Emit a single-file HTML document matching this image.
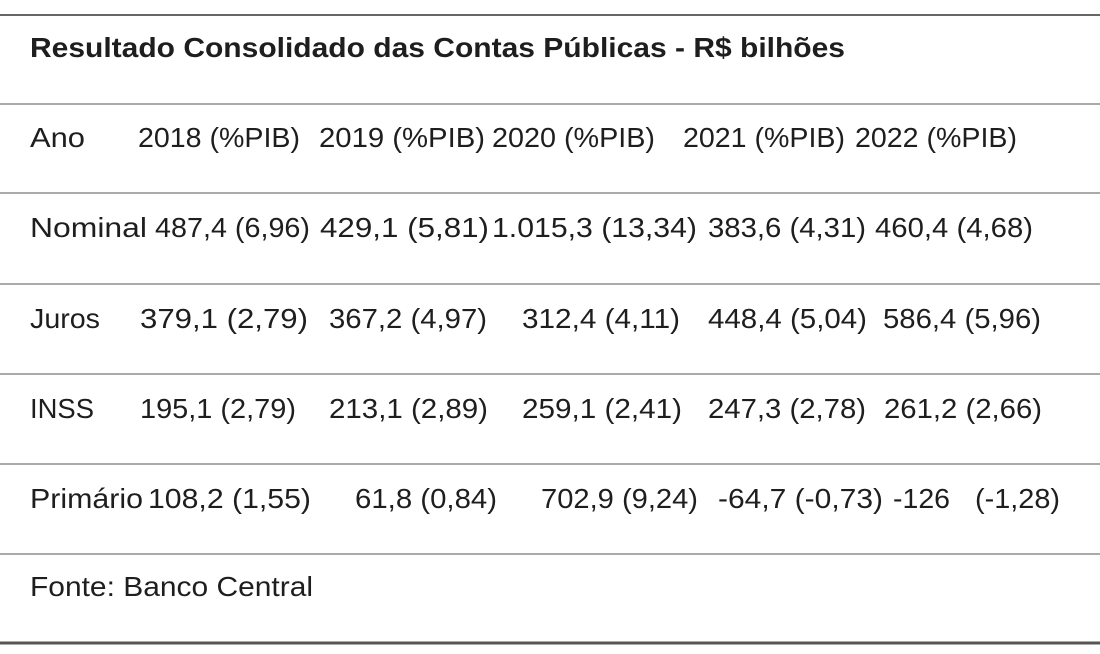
<!DOCTYPE html>
<html><head><meta charset="utf-8"><style>
html,body{margin:0;padding:0;background:#fff;}
svg{display:block;}
text{font-family:"Liberation Sans",sans-serif;font-size:28px;fill:#1e1e1e;}
</style></head><body>
<svg width="1100" height="654">
<rect width="1100" height="654" fill="#fff"/>
<line x1="0" x2="1100" y1="15" y2="15" stroke="#666" stroke-width="2"/>
<g stroke="#aaa" stroke-width="2">
<line x1="0" x2="1100" y1="104" y2="104"/><line x1="0" x2="1100" y1="193" y2="193"/>
<line x1="0" x2="1100" y1="284" y2="284"/><line x1="0" x2="1100" y1="374" y2="374"/>
<line x1="0" x2="1100" y1="464" y2="464"/><line x1="0" x2="1100" y1="554" y2="554"/>
</g>
<line x1="0" x2="1100" y1="643" y2="643" stroke="#555" stroke-width="3"/>
<text x="30" y="57" font-weight="bold" textLength="815" lengthAdjust="spacingAndGlyphs">Resultado Consolidado das Contas Públicas - R$ bilhões</text>
<g>
<text x="30" y="147" textLength="55" lengthAdjust="spacingAndGlyphs">Ano</text>
<text x="138" y="147" textLength="162" lengthAdjust="spacingAndGlyphs">2018 (%PIB)</text>
<text x="319" y="147" textLength="166" lengthAdjust="spacingAndGlyphs">2019 (%PIB)</text>
<text x="492" y="147" textLength="163" lengthAdjust="spacingAndGlyphs">2020 (%PIB)</text>
<text x="683" y="147" textLength="162" lengthAdjust="spacingAndGlyphs">2021 (%PIB)</text>
<text x="855" y="147" textLength="162" lengthAdjust="spacingAndGlyphs">2022 (%PIB)</text>
</g>
<g>
<text x="30" y="237" textLength="117" lengthAdjust="spacingAndGlyphs">Nominal</text>
<text x="155" y="237" textLength="155" lengthAdjust="spacingAndGlyphs">487,4 (6,96)</text>
<text x="320" y="237" textLength="169" lengthAdjust="spacingAndGlyphs">429,1 (5,81)</text>
<text x="492" y="237" textLength="205" lengthAdjust="spacingAndGlyphs">1.015,3 (13,34)</text>
<text x="708" y="237" textLength="158" lengthAdjust="spacingAndGlyphs">383,6 (4,31)</text>
<text x="875" y="237" textLength="158" lengthAdjust="spacingAndGlyphs">460,4 (4,68)</text>
</g>
<g>
<text x="30" y="328" textLength="70" lengthAdjust="spacingAndGlyphs">Juros</text>
<text x="140" y="328" textLength="168" lengthAdjust="spacingAndGlyphs">379,1 (2,79)</text>
<text x="329" y="328" textLength="158" lengthAdjust="spacingAndGlyphs">367,2 (4,97)</text>
<text x="522" y="328" textLength="158" lengthAdjust="spacingAndGlyphs">312,4 (4,11)</text>
<text x="708" y="328" textLength="159" lengthAdjust="spacingAndGlyphs">448,4 (5,04)</text>
<text x="883" y="328" textLength="158" lengthAdjust="spacingAndGlyphs">586,4 (5,96)</text>
</g>
<g>
<text x="30" y="418" textLength="64" lengthAdjust="spacingAndGlyphs">INSS</text>
<text x="140" y="418" textLength="156" lengthAdjust="spacingAndGlyphs">195,1 (2,79)</text>
<text x="329" y="418" textLength="159" lengthAdjust="spacingAndGlyphs">213,1 (2,89)</text>
<text x="522" y="418" textLength="160" lengthAdjust="spacingAndGlyphs">259,1 (2,41)</text>
<text x="708" y="418" textLength="158" lengthAdjust="spacingAndGlyphs">247,3 (2,78)</text>
<text x="884" y="418" textLength="158" lengthAdjust="spacingAndGlyphs">261,2 (2,66)</text>
</g>
<g>
<text x="30" y="508" textLength="113" lengthAdjust="spacingAndGlyphs">Primário</text>
<text x="148" y="508" textLength="163" lengthAdjust="spacingAndGlyphs">108,2 (1,55)</text>
<text x="355" y="508" textLength="142" lengthAdjust="spacingAndGlyphs">61,8 (0,84)</text>
<text x="541" y="508" textLength="157" lengthAdjust="spacingAndGlyphs">702,9 (9,24)</text>
<text x="718" y="508" textLength="165" lengthAdjust="spacingAndGlyphs">-64,7 (-0,73)</text>
<text x="893" y="508" textLength="57" lengthAdjust="spacingAndGlyphs">-126</text>
<text x="975" y="508" textLength="85" lengthAdjust="spacingAndGlyphs">(-1,28)</text>
</g>
<text x="30" y="596" textLength="283" lengthAdjust="spacingAndGlyphs">Fonte: Banco Central</text>
</svg>
</body></html>
